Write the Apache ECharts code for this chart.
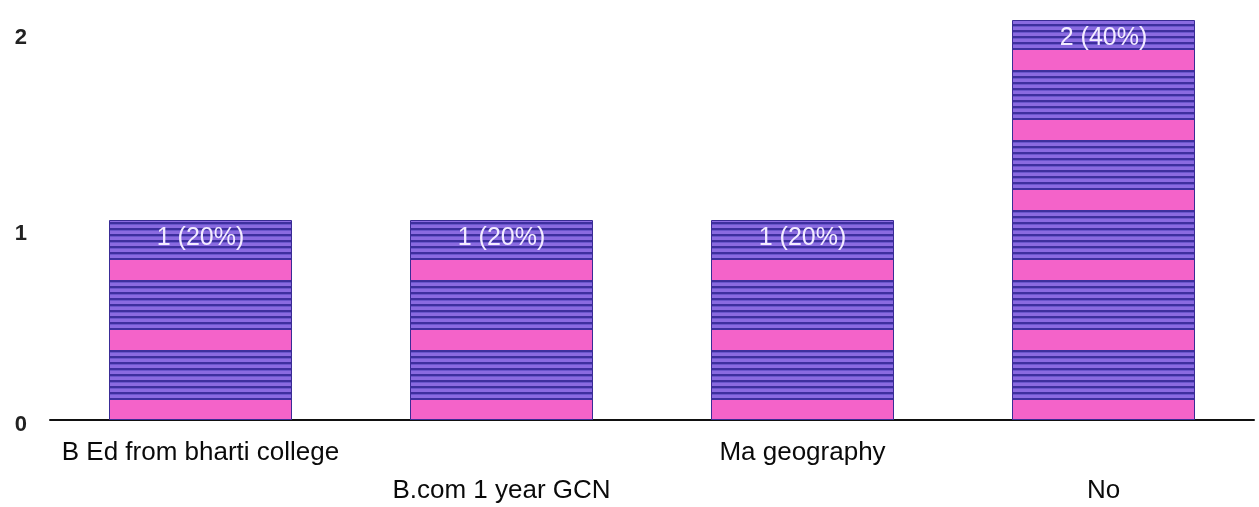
<!DOCTYPE html>
<html>
<head>
<meta charset="utf-8">
<script src="https://cdn.jsdelivr.net/npm/echarts@6/dist/echarts.min.js"></script>
<style>
html, body { margin: 0; padding: 0; background: #fff; }
#chart { width: 1259px; height: 507px; }
</style>
</head>
<body>
<div id="chart"></div>
<script>
const categories = ['B Ed from bharti college', 'B.com 1 year GCN', 'Ma geography', 'No']
const counts = [1, 1, 1, 2]
const percents = [20, 20, 20, 40]
const yTicks = [0, 1, 2]

// striped fill, like the scanned bars (blue/purple lines with pink bands)
function makeStripes() {
	const c = document.createElement('canvas')
	c.width = 8
	c.height = 70
	const ctx = c.getContext('2d')
	ctx.fillStyle = '#8a6ae0'
	ctx.fillRect(0, 0, 8, 70)
	for (let y = 0; y < 70; y += 6) {
		ctx.fillStyle = '#3d2f9e'
		ctx.fillRect(0, y, 8, 2)
		ctx.fillStyle = '#6a55cc'
		ctx.fillRect(0, y + 2, 8, 1)
	}
	ctx.fillStyle = '#f463c9'
	ctx.fillRect(0, 50, 8, 22)
	return c
}

const chart = echarts.init(document.getElementById('chart'))
chart.setOption({
	backgroundColor: '#fff',
	animation: false,
	grid: { left: 50, right: 5, top: 0, bottom: 87, outerBoundsMode: 'none' },
	xAxis: {
		type: 'category',
		data: categories,
		axisLine: { lineStyle: { color: '#111', width: 2 } },
		axisTick: { show: false },
		axisLabel: {
			interval: 0,
			margin: 14,
			color: '#0a0a0a',
			fontFamily: 'Liberation Sans, Arial, sans-serif',
			fontSize: 26,
			lineHeight: 38,
			formatter: (v, i) => (i % 2 === 1 ? '\n' + v : v)
		}
	},
	yAxis: {
		type: 'value',
		min: 0,
		max: 2.1,
		interval: 1,
		axisLine: { show: false },
		axisTick: { show: false },
		splitLine: { show: false },
		axisLabel: {
			margin: 23,
			color: '#222',
			fontFamily: 'Liberation Sans, Arial, sans-serif',
			fontSize: 22,
			fontWeight: 'bold',
			formatter: v => (yTicks.includes(v) ? '{t' + v + '|' + v + '}' : ''),
			rich: {
				t0: { padding: [10, 0, 0, 0] },
				t1: { padding: [28, 0, 0, 0] },
				t2: { padding: [36, 0, 0, 0] }
			}
		}
	},
	series: [{
		type: 'bar',
		data: counts,
		barWidth: 183,
		itemStyle: {
			color: { image: makeStripes(), repeat: 'repeat' },
			borderColor: '#3a2c96',
			borderWidth: 1
		},
		label: {
			show: true,
			position: 'insideTop',
			distance: 6,
			color: '#f3ecff',
			fontFamily: 'Liberation Sans, Arial, sans-serif',
			fontSize: 25,
			formatter: p => counts[p.dataIndex] + ' (' + percents[p.dataIndex] + '%)'
		}
	}]
})
</script>
</body>
</html>
